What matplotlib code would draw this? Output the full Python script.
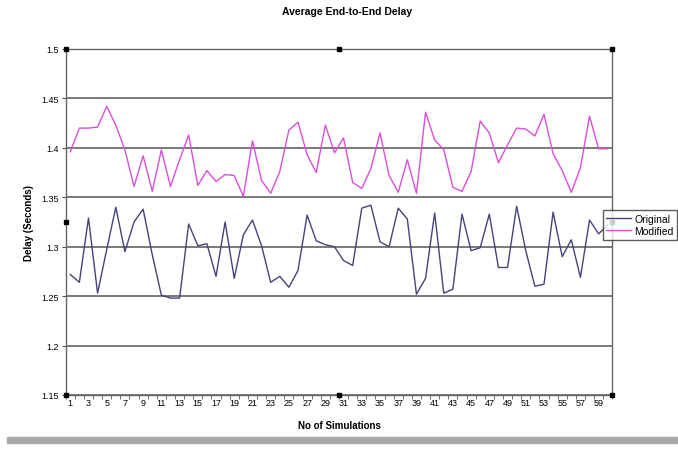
import matplotlib
matplotlib.use("Agg")
import matplotlib.pyplot as plt
from matplotlib.patches import Rectangle

plt.rcParams['font.family'] = ['Liberation Sans', 'DejaVu Sans']

simulations = list(range(1, 61))
original = [1.272, 1.264, 1.329, 1.253, 1.297, 1.340, 1.295, 1.325, 1.338, 1.292,
            1.251, 1.248, 1.248, 1.323, 1.301, 1.303, 1.270, 1.325, 1.268, 1.312,
            1.327, 1.301, 1.264, 1.270, 1.259, 1.276, 1.332, 1.306, 1.302, 1.300,
            1.286, 1.281, 1.339, 1.342, 1.305, 1.300, 1.339, 1.328, 1.252, 1.268,
            1.334, 1.253, 1.257, 1.333, 1.296, 1.299, 1.333, 1.279, 1.279, 1.341,
            1.296, 1.260, 1.262, 1.335, 1.290, 1.307, 1.269, 1.327, 1.313, 1.322]
modified = [1.396, 1.420, 1.420, 1.421, 1.442, 1.423, 1.398, 1.361, 1.392, 1.356,
            1.398, 1.361, 1.388, 1.413, 1.362, 1.377, 1.366, 1.373, 1.372, 1.351,
            1.407, 1.367, 1.354, 1.376, 1.418, 1.426, 1.393, 1.375, 1.423, 1.395,
            1.410, 1.365, 1.359, 1.379, 1.415, 1.372, 1.355, 1.388, 1.354, 1.436,
            1.408, 1.398, 1.360, 1.356, 1.376, 1.427, 1.415, 1.385, 1.403, 1.420,
            1.419, 1.412, 1.434, 1.394, 1.377, 1.355, 1.380, 1.432, 1.399, 1.399]
y_ticks = [1.15, 1.2, 1.25, 1.3, 1.35, 1.4, 1.45, 1.5]
x_labels = list(range(1, 60, 2))


def main():
    fig = plt.figure(figsize=(6.78, 4.52), dpi=100)
    ax = fig.add_axes([0.0969, 0.1239, 0.8062, 0.7655])

    for v in y_ticks:
        ax.axhline(v, color='#555555', linewidth=1.1, zorder=1)

    ax.plot(simulations, original, color='#44447a', linewidth=1.0, label='Original', zorder=3)
    ax.plot(simulations, modified, color='#d94fd9', linewidth=1.0, label='Modified', zorder=3)

    ax.set_xlim(0.5, 60.5)
    ax.set_ylim(1.15, 1.5)
    ax.set_yticks(y_ticks)
    ax.set_yticklabels([f"{v:g}" for v in y_ticks], fontsize=6.5)
    ax.set_xticks(x_labels)
    ax.set_xticklabels([str(v) for v in x_labels], fontsize=6.5)
    ax.tick_params(axis='x', length=0, pad=2.5)
    ax.set_xticks([i + 0.5 for i in range(0, 61)], minor=True)
    ax.tick_params(axis='x', which='minor', length=3, color='#555555', direction='out')
    ax.tick_params(axis='y', length=3, color='#555555', pad=2)

    for s in ax.spines.values():
        s.set_color('#666666')
        s.set_linewidth(1.0)

    ax.set_title("Average End-to-End Delay", fontsize=7.5, fontweight='bold', pad=25, x=0.515)
    ax.set_xlabel("No of Simulations", fontsize=7, fontweight='bold', labelpad=9)
    ax.set_ylabel("Delay (Seconds)", fontsize=7, fontweight='bold', labelpad=5)

    # selection handles
    hx = [0, 0.5, 1, 0, 1, 0, 0.5, 1]
    hy = [1, 1, 1, 0.5, 0.5, 0, 0, 0]
    ax.plot(hx, hy, linestyle='none', marker='s', markersize=3, color='black',
            transform=ax.transAxes, clip_on=False, zorder=5)

    fig.legend(loc='upper left', bbox_to_anchor=(0.881, 0.545), fontsize=7.5,
               frameon=True, fancybox=False, edgecolor='#333333', borderpad=0.35,
               handlelength=2.4, handletextpad=0.3, labelspacing=0.25)

    fig.patches.append(Rectangle((0.01, 1 - 444 / 452), 0.99, 6 / 452,
                                 transform=fig.transFigure, color='#a8a8a8'))

    fig.savefig("out.png", dpi=100)


if __name__ == '__main__':
    main()
